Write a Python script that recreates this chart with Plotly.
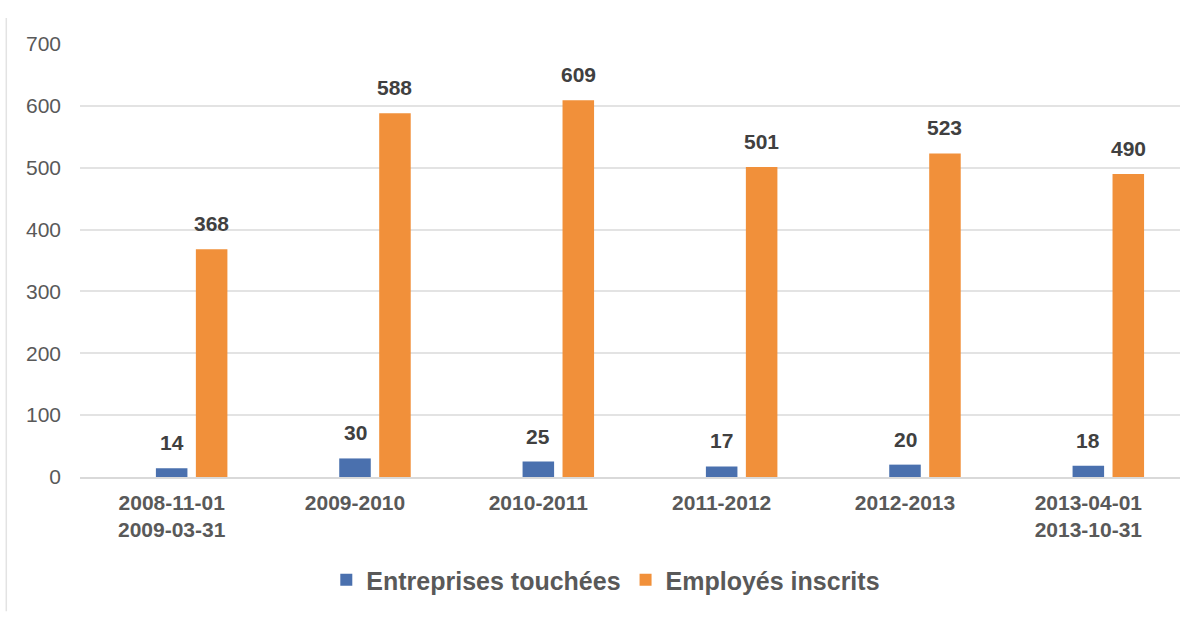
import plotly.graph_objects as go

categories = ["2008-11-01<br>2009-03-31", "2009-2010", "2010-2011", "2011-2012", "2012-2013", "2013-04-01<br>2013-10-31"]
entreprises = [14, 30, 25, 17, 20, 18]
employes = [368, 588, 609, 501, 523, 490]
y_ticks = [0, 100, 200, 300, 400, 500, 600, 700]

idx = list(range(len(categories)))
shift = 0.218
x_blue = [i for i in idx]
x_orange = [i + shift for i in idx]

fig = go.Figure()
fig.add_trace(go.Bar(name="Entreprises touchées", x=x_blue, y=entreprises, width=0.172,
                     marker_color="#4A70AE", marker_line_width=0))
fig.add_trace(go.Bar(name="Employés inscrits", x=x_orange, y=employes, width=0.172,
                     marker_color="#F1903A", marker_line_width=0))

lab_font = dict(family="Liberation Sans", size=21, color="#404040", weight="bold")
for xs, ys in ((x_blue, entreprises), (x_orange, employes)):
    for xv, yv in zip(xs, ys):
        fig.add_annotation(x=xv, y=yv, text=str(yv), showarrow=False, yanchor="bottom",
                           yshift=12, font=lab_font)

fig.update_layout(
    width=1200, height=618,
    barmode="overlay",
    plot_bgcolor="white", paper_bgcolor="white",
    margin=dict(l=80, r=20, t=44, b=141),
    font=dict(family="Liberation Sans", color="#595959"),
    legend=dict(orientation="h", x=0.478, xanchor="center", y=-0.238, yanchor="middle",
                font=dict(size=25, color="#595959", weight="bold"),
                itemwidth=30, traceorder="normal"),
    showlegend=True,
)
fig.update_yaxes(range=[0, 700], tickvals=y_ticks, showgrid=True, gridcolor="#E3E3E3", gridwidth=1.5,
                 zeroline=False, tickfont=dict(size=21, color="#595959"), ticks="", ticklabelstandoff=18)
fig.update_xaxes(range=[-0.5, 5.5], tickvals=idx, ticktext=categories, showgrid=False, zeroline=False,
                 showline=True, linecolor="#D9D9D9", linewidth=1.5,
                 tickfont=dict(size=21, color="#595959", weight="bold"), ticks="", ticklabelstandoff=6)
fig.add_shape(type="line", xref="paper", yref="paper", x0=-0.067, x1=-0.067, y0=-0.31, y1=1.06,
              line=dict(color="#E3E3E3", width=1.5))

fig.write_html("out.html")
